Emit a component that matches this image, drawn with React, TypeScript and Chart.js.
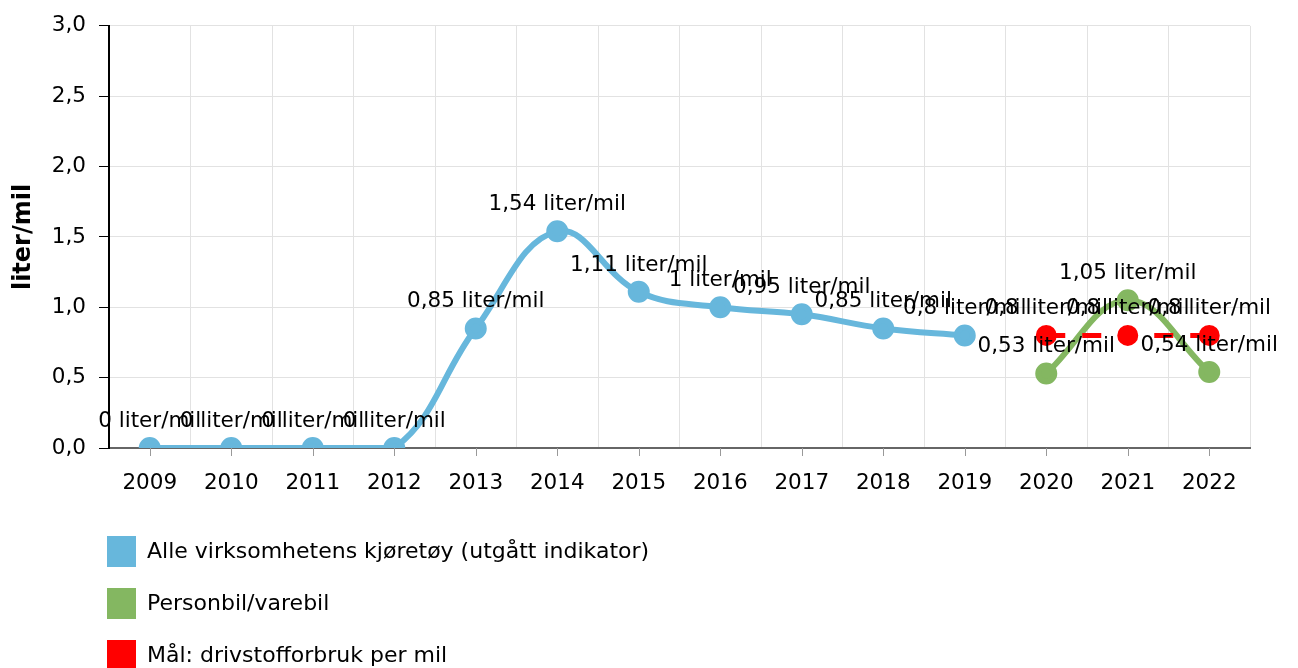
import React, { useEffect, useRef } from "react";
import { Chart, registerables } from "chart.js";

Chart.register(...registerables);

const years = ["2009", "2010", "2011", "2012", "2013", "2014", "2015", "2016", "2017", "2018", "2019", "2020", "2021", "2022"];
const alleKjoretoy = [0, 0, 0, 0, 0.85, 1.54, 1.11, 1, 0.95, 0.85, 0.8, null, null, null];
const personbil = [null, null, null, null, null, null, null, null, null, null, null, 0.53, 1.05, 0.54];
const maal = [null, null, null, null, null, null, null, null, null, null, null, 0.8, 0.8, 0.8];
const seriesNames = ["Alle virksomhetens kjøretøy (utgått indikator)", "Personbil/varebil", "Mål: drivstofforbruk per mil"];
const seriesColors = ["#67b7dc", "#84b761", "#ff0000"];
const yTicks = [0, 0.5, 1, 1.5, 2, 2.5, 3];
const unit = "liter/mil";

const FONT = "DejaVu Sans";
const FS = 21.5;

const fmt = (v: number) => String(v).replace(".", ",");

const dataLabels = {
  id: "dataLabels",
  afterDatasetsDraw(chart: any) {
    const ctx = chart.ctx;
    ctx.save();
    ctx.font = `${FS}px '${FONT}'`;
    ctx.fillStyle = "#000";
    ctx.textAlign = "center";
    ctx.textBaseline = "alphabetic";
    chart.data.datasets.forEach((ds: any, i: number) => {
      const meta = chart.getDatasetMeta(i);
      meta.data.forEach((el: any, j: number) => {
        const v = ds.data[j];
        if (v === null || v === undefined) return;
        ctx.fillText(`${fmt(v)} ${unit}`, el.x, el.y - 21);
      });
    });
    ctx.restore();
  },
};

const xTickMarks = {
  id: "xTickMarks",
  afterDraw(chart: any) {
    const ctx = chart.ctx;
    const xs = chart.scales.x;
    const bottom = chart.chartArea.bottom;
    ctx.save();
    ctx.strokeStyle = "#999";
    ctx.lineWidth = 1;
    years.forEach((_, i) => {
      const x = Math.round(xs.getPixelForValue(i)) + 0.5;
      ctx.beginPath();
      ctx.moveTo(x, bottom);
      ctx.lineTo(x, bottom + 8);
      ctx.stroke();
    });
    ctx.restore();
  },
};

const listLegend = {
  id: "listLegend",
  afterDraw(chart: any) {
    const ctx = chart.ctx;
    ctx.save();
    ctx.font = `22px '${FONT}'`;
    ctx.textBaseline = "middle";
    ctx.textAlign = "left";
    seriesNames.forEach((name, i) => {
      const cy = 551 + i * 52;
      ctx.fillStyle = seriesColors[i];
      ctx.fillRect(107, cy - 15, 29, 31);
      ctx.fillStyle = "#000";
      ctx.fillText(name, 147, cy + 1);
    });
    ctx.restore();
  },
};

export default function App() {
  const ref = useRef<HTMLCanvasElement | null>(null);
  useEffect(() => {
    if (!ref.current) return;
    Chart.defaults.font.family = FONT;
    Chart.defaults.font.size = FS;
    Chart.defaults.color = "#000";
    const chart = new Chart(ref.current, {
      type: "line",
      data: {
        labels: years,
        datasets: [
          {
            label: seriesNames[0],
            data: alleKjoretoy,
            borderColor: seriesColors[0],
            backgroundColor: seriesColors[0],
            borderWidth: 6,
            pointRadius: 8,
            pointHoverRadius: 8,
            tension: 0.4,
            order: 3,
          },
          {
            label: seriesNames[1],
            data: personbil,
            borderColor: seriesColors[1],
            backgroundColor: seriesColors[1],
            borderWidth: 6,
            pointRadius: 8,
            pointHoverRadius: 8,
            tension: 0.4,
            order: 2,
          },
          {
            label: seriesNames[2],
            data: maal,
            borderColor: seriesColors[2],
            backgroundColor: seriesColors[2],
            borderWidth: 5,
            borderDash: [19, 17],
            pointRadius: 8,
            pointHoverRadius: 8,
            tension: 0,
            order: 1,
          },
        ],
      },
      options: {
        animation: false,
        responsive: true,
        maintainAspectRatio: false,
        layout: { padding: { left: 9, top: 20, right: 48, bottom: 0 } },
        plugins: {
          legend: { display: false },
          tooltip: { enabled: false },
        },
        scales: {
          x: {
            offset: true,
            grid: { offset: true, color: "#e2e2e2", drawTicks: false },
            border: { color: "#666", width: 2 },
            ticks: { padding: 23, color: "#000", font: { size: FS }, maxRotation: 0, autoSkip: false },
            afterFit: (s: any) => {
              s.height = 220;
            },
          },
          y: {
            min: 0,
            max: 3,
            afterBuildTicks: (s: any) => {
              s.ticks = yTicks.map((v) => ({ value: v }));
            },
            grid: { color: "#e2e2e2", tickColor: "#000", tickLength: 10 },
            border: { color: "#000", width: 2 },
            ticks: {
              padding: 13,
              color: "#000",
              font: { size: FS },
              callback: (v: any) => Number(v).toFixed(1).replace(".", ","),
            },
            title: {
              display: true,
              text: unit,
              color: "#000",
              font: { size: 24, weight: "bold" },
              padding: 0,
            },
            afterFit: (s: any) => {
              s.width = 100;
            },
          },
        },
      },
      plugins: [dataLabels, xTickMarks, listLegend],
    });
    return () => chart.destroy();
  }, []);
  return (
    <div style={{ position: "fixed", left: 0, top: 0, width: 1298, height: 668, background: "#fff" }}>
      <canvas ref={ref} />
    </div>
  );
}
